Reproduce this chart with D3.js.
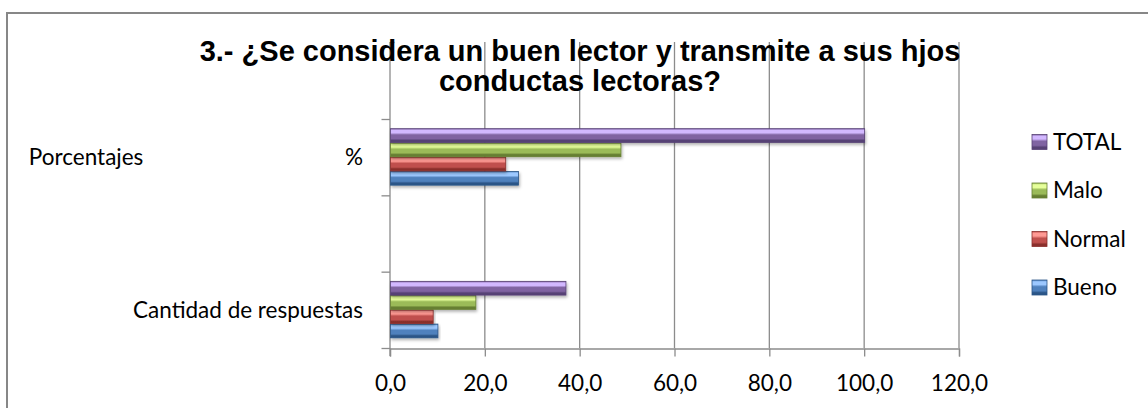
<!DOCTYPE html>
<html lang="es">
<head>
    <meta charset="UTF-8">
    <title>3.- ¿Se considera un buen lector?</title>
    <script src="https://d3js.org/d3.v7.min.js"></script>
    <style>
        body { margin: 0; background: #fff; }
        svg { display: block; }
        .lbl { font-family: Lato, 'Open Sans', sans-serif; font-size: 22.5px; fill: #000; }
        .title { font-family: 'Liberation Sans', Arial, sans-serif; font-weight: bold; font-size: 29px; fill: #000; }
    </style>
</head>
<body>
<svg width="1148" height="408"></svg>
<script>
    // categories top to bottom (the middle row is empty in the sheet)
    const categories = ['Porcentajes                                   %', '', 'Cantidad de respuestas'];
    const series = ['Bueno', 'Normal', 'Malo', 'TOTAL'];
    const bueno = [27.0, null, 10];
    const normal = [24.3, null, 9];
    const malo = [48.6, null, 18];
    const total = [100.0, null, 37];
    const xTicks = [0, 20, 40, 60, 80, 100, 120];

    const colors = {
      Bueno:  { light: '#9cc8ff', base: '#4f81bd', dark: '#2b5587' },
      Normal: { light: '#ff9a94', base: '#c0504d', dark: '#8a2f2c' },
      Malo:   { light: '#e6ff9a', base: '#9bbb59', dark: '#667f32' },
      TOTAL:  { light: '#d2b8ff', base: '#8064a2', dark: '#574275' }
    };

    const valuesBySeries = { Bueno: bueno, Normal: normal, Malo: malo, TOTAL: total };

    const svg = d3.select('svg');
    const defs = svg.append('defs');

    series.forEach(s => {
      const g = defs.append('linearGradient')
        .attr('id', 'grad-' + s)
        .attr('x1', 0).attr('y1', 0).attr('x2', 0).attr('y2', 1);
      g.append('stop').attr('offset', '0%').attr('stop-color', colors[s].base);
      g.append('stop').attr('offset', '12%').attr('stop-color', colors[s].light);
      g.append('stop').attr('offset', '30%').attr('stop-color', colors[s].light);
      g.append('stop').attr('offset', '45%').attr('stop-color', colors[s].base);
      g.append('stop').attr('offset', '72%').attr('stop-color', colors[s].base);
      g.append('stop').attr('offset', '85%').attr('stop-color', colors[s].dark);
      g.append('stop').attr('offset', '100%').attr('stop-color', colors[s].dark);
    });

    const shadow = defs.append('filter').attr('id', 'shadow')
      .attr('x', '-5%').attr('y', '-30%').attr('width', '110%').attr('height', '180%');
    shadow.append('feDropShadow')
      .attr('dx', 1).attr('dy', 2).attr('stdDeviation', 1.5)
      .attr('flood-color', '#000').attr('flood-opacity', 0.3);

    // outer chart border
    svg.append('rect')
      .attr('x', 7).attr('y', 13)
      .attr('width', 1200).attr('height', 450)
      .attr('fill', 'none')
      .attr('stroke', '#878787')
      .attr('stroke-width', 2);

    const x = d3.scaleLinear().domain([0, 120]).range([389.5, 958.5]);
    const axisY = 348;
    const wallTop = 42;

    const y0 = d3.scaleBand().domain(categories).range([119, axisY]);
    const y1 = d3.scaleBand()
      .domain(series.slice().reverse())
      .range([0, y0.bandwidth()])
      .paddingOuter(0.68)
      .paddingInner(0);

    // vertical grid lines
    svg.append('g')
      .selectAll('line')
      .data(xTicks.filter(t => t > 0))
      .enter()
      .append('line')
      .attr('x1', d => x(d) + 0.5).attr('x2', d => x(d) + 0.5)
      .attr('y1', wallTop).attr('y2', axisY)
      .attr('stroke', '#8c8c8c')
      .attr('stroke-width', 1.3);

    // x axis
    const xAxis = svg.append('g')
      .attr('transform', `translate(0.5, ${axisY + 0.5})`)
      .call(d3.axisBottom(x)
        .tickValues(xTicks)
        .tickSize(8)
        .tickFormat(d => d.toFixed(1).replace('.', ',')));
    xAxis.select('.domain').attr('stroke', '#8c8c8c').attr('stroke-width', 1.3);
    xAxis.selectAll('.tick line').attr('stroke', '#8c8c8c').attr('stroke-width', 1.3);
    xAxis.selectAll('.tick text')
      .attr('class', 'lbl')
      .attr('dy', null)
      .attr('y', 42)
      .attr('fill', '#000');

    // y axis (category boundaries)
    const yAxis = svg.append('g');
    yAxis.append('line')
      .attr('x1', x(0) + 0.5).attr('x2', x(0) + 0.5)
      .attr('y1', wallTop).attr('y2', axisY + 8)
      .attr('stroke', '#8c8c8c').attr('stroke-width', 1.3);
    yAxis.append('line')
      .attr('x1', x(0) + 0.5).attr('x2', x(0) + 5)
      .attr('y1', wallTop + 0.5).attr('y2', wallTop + 0.5)
      .attr('stroke', '#8c8c8c').attr('stroke-width', 1.3);
    const bounds = categories.map(c => y0(c)).concat([axisY]);
    yAxis.selectAll('.ytick')
      .data(bounds)
      .enter()
      .append('line')
      .attr('class', 'ytick')
      .attr('x1', x(0) - 8).attr('x2', x(0) + 0.5)
      .attr('y1', d => d + 0.5).attr('y2', d => d + 0.5)
      .attr('stroke', '#8c8c8c').attr('stroke-width', 1.3);

    // category labels
    svg.append('g')
      .selectAll('text')
      .data(categories)
      .enter()
      .append('text')
      .attr('class', 'lbl')
      .attr('x', 363)
      .attr('y', d => y0(d) + y0.bandwidth() / 2)
      .attr('dy', '0.35em')
      .attr('text-anchor', 'end')
      .style('white-space', 'pre')
      .text(d => d);

    // bars
    const rows = [];
    categories.forEach((c, i) => {
      series.forEach(s => {
        const v = valuesBySeries[s][i];
        if (v !== null) rows.push({ cat: c, series: s, value: v });
      });
    });

    svg.append('g')
      .selectAll('rect')
      .data(rows)
      .enter()
      .append('rect')
      .attr('x', x(0) + 1)
      .attr('y', d => y0(d.cat) + y1(d.series))
      .attr('width', d => x(d.value) - x(0))
      .attr('height', y1.bandwidth() - 0.5)
      .attr('fill', d => `url(#grad-${d.series})`)
      .attr('stroke', d => colors[d.series].dark)
      .attr('stroke-width', 0.8)
      .attr('filter', 'url(#shadow)');

    // title
    const title = svg.append('text')
      .attr('class', 'title')
      .attr('text-anchor', 'middle');
    title.append('tspan').attr('x', 580).attr('y', 61)
      .text('3.- ¿Se considera un buen lector y transmite a sus hjos');
    title.append('tspan').attr('x', 580).attr('y', 91)
      .text('conductas lectoras?');

    // legend
    const legendOrder = series.slice().reverse();
    const ly = d3.scalePoint().domain(legendOrder).range([142, 287.5]);
    const legend = svg.append('g')
      .selectAll('g')
      .data(legendOrder)
      .enter()
      .append('g')
      .attr('transform', d => `translate(1032, ${ly(d)})`);
    legend.append('rect')
      .attr('x', 0).attr('y', -7.5)
      .attr('width', 15).attr('height', 15)
      .attr('fill', d => `url(#grad-${d})`)
      .attr('stroke', d => colors[d].dark)
      .attr('stroke-width', 0.8);
    legend.append('text')
      .attr('class', 'lbl')
      .attr('x', 21)
      .attr('y', 0)
      .attr('dy', '0.35em')
      .text(d => d);
</script>
</body>
</html>
